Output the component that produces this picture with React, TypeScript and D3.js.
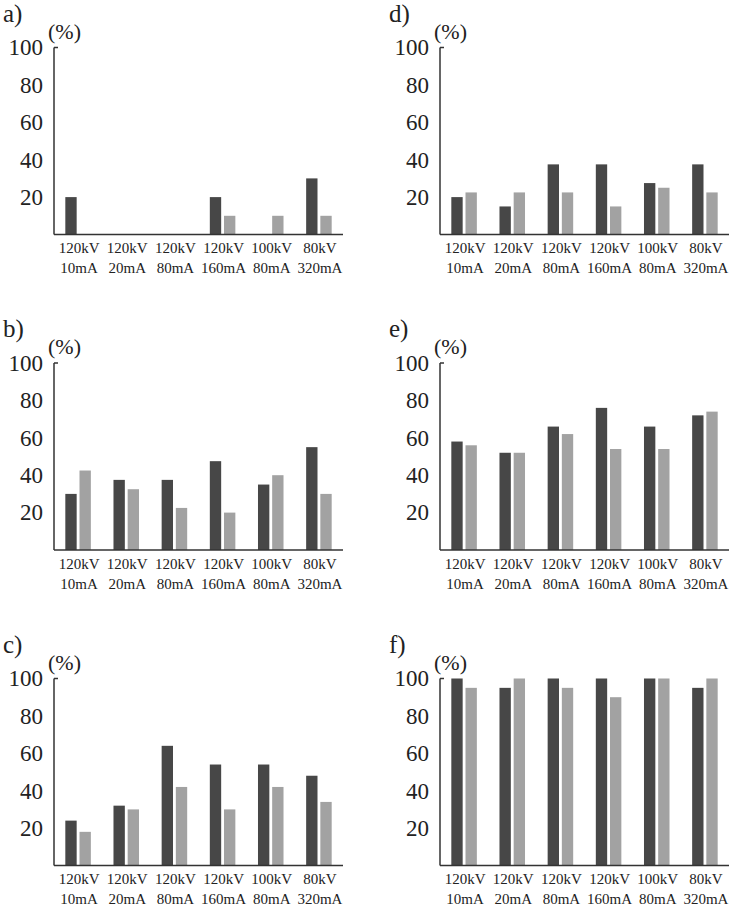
import React from "react";
import * as d3 from "d3";

const categoriesKV = ["120kV", "120kV", "120kV", "120kV", "100kV", "80kV"];
const categoriesMA = ["10mA", "20mA", "80mA", "160mA", "80mA", "320mA"];
const seriesNames = ["dark", "light"];
const yTicks = [20, 40, 60, 80, 100];

const panelLetters = ["a)", "b)", "c)", "d)", "e)", "f)"];

const aDark = [20, 0, 0, 20, 0, 30];
const aLight = [0, 0, 0, 10, 10, 10];
const bDark = [30, 37.5, 37.5, 47.5, 35, 55];
const bLight = [42.5, 32.5, 22.5, 20, 40, 30];
const cDark = [24, 32, 64, 54, 54, 48];
const cLight = [18, 30, 42, 30, 42, 34];
const dDark = [20, 15, 37.5, 37.5, 27.5, 37.5];
const dLight = [22.5, 22.5, 22.5, 15, 25, 22.5];
const eDark = [58, 52, 66, 76, 66, 72];
const eLight = [56, 52, 62, 54, 54, 74];
const fDark = [100, 95, 100, 100, 100, 95];
const fLight = [95, 100, 95, 90, 100, 100];

const panelData = [
  [aDark, aLight],
  [bDark, bLight],
  [cDark, cLight],
  [dDark, dLight],
  [eDark, eLight],
  [fDark, fLight],
];

const colX = [54, 440];
const rowTop = [47.5, 363, 678.5];
const PW = 289;
const PH = 187;
const colors = ["#474747", "#a2a2a2"];
const FONT = '"Liberation Serif"';
const TXT = "#222";

function Panel({ idx }: { idx: number }) {
  const col = Math.floor(idx / 3);
  const row = idx % 3;
  const x0 = colX[col];
  const top = rowTop[row];
  const base = top + PH;
  const ids = categoriesKV.map((_, i) => String(i));
  const xOuter = d3
    .scaleBand<string>()
    .domain(ids)
    .range([x0, x0 + PW])
    .paddingInner(0.47)
    .paddingOuter(0.235);
  const xInner = d3
    .scaleBand<string>()
    .domain(seriesNames)
    .range([0, xOuter.bandwidth()])
    .paddingInner(0.2);
  const y = d3.scaleLinear().domain([0, 100]).range([base, top]);
  const xCenter = d3.scaleBand<string>().domain(ids).range([x0, x0 + PW]);
  const [dark, light] = panelData[idx];
  const series = [dark, light];
  const ts = (size: number) => ({ fontFamily: FONT, fontSize: size + "px" });

  return (
    <g>
      <text x={x0 - 51} y={top - 26} style={ts(25)} fill={TXT}>
        {panelLetters[idx]}
      </text>
      <text x={x0 - 6} y={top - 9} style={ts(22)} fill={TXT}>
        (%)
      </text>
      {yTicks.map((t) => (
        <text key={t} x={x0 - 11} y={y(t) + 7.8} style={ts(23)} fill={TXT} textAnchor="end">
          {t}
        </text>
      ))}
      {series.map((vals, s) =>
        vals.map((v, i) =>
          v > 0 ? (
            <rect
              key={`${s}-${i}`}
              x={(xOuter(ids[i]) as number) + (xInner(seriesNames[s]) as number)}
              y={y(v)}
              width={xInner.bandwidth()}
              height={base - y(v)}
              fill={colors[s]}
            />
          ) : null
        )
      )}
      <line x1={x0} x2={x0} y1={top} y2={base} stroke="#333" strokeWidth={1.5} />
      <line x1={x0} x2={x0 + 4} y1={top} y2={top} stroke="#333" strokeWidth={1.5} />
      <line x1={x0} x2={x0 + PW} y1={base} y2={base} stroke="#333" strokeWidth={1.5} />
      {ids.map((id, i) => {
        const cx = (xCenter(id) as number) + xCenter.bandwidth() / 2 + 1;
        return (
          <g key={id}>
            <text x={cx} y={base + 18.5} style={ts(15)} fill={TXT} textAnchor="middle">
              {categoriesKV[i]}
            </text>
            <text x={cx} y={base + 38.5} style={ts(15)} fill={TXT} textAnchor="middle">
              {categoriesMA[i]}
            </text>
          </g>
        );
      })}
    </g>
  );
}

export default function App() {
  return (
    <svg width={740} height={908} style={{ position: "absolute", left: 0, top: 0, background: "#fff" }}>
      <rect x={0} y={0} width={740} height={908} fill="#fff" />
      {panelLetters.map((_, i) => (
        <Panel key={i} idx={i} />
      ))}
    </svg>
  );
}
